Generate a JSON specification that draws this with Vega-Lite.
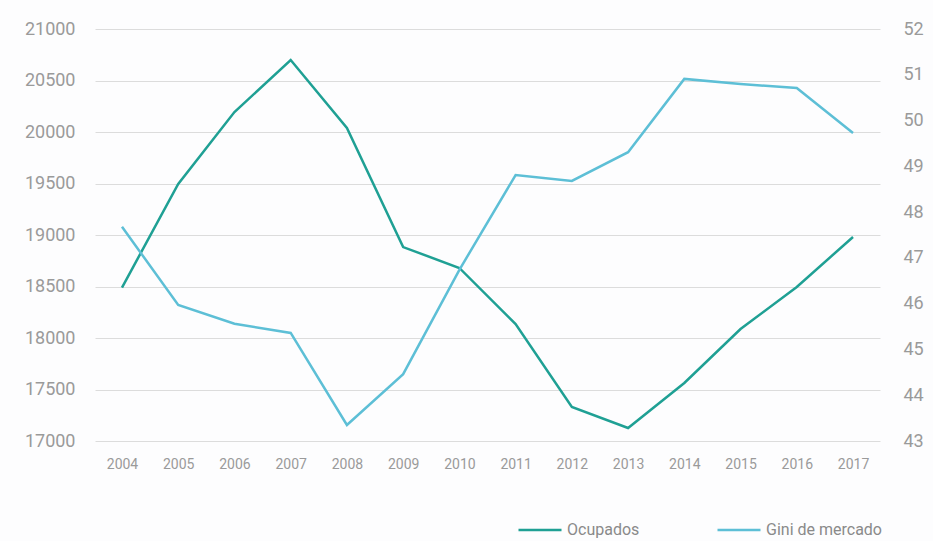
{
  "$schema": "https://vega.github.io/schema/vega-lite/v6.json",
  "width": 785,
  "height": 412,
  "autosize": {"type": "none"},
  "padding": {"left": 95, "top": 29, "right": 53, "bottom": 100},
  "background": "#fdfdfe",
  "config": {
    "view": {"stroke": null},
    "font": "Roboto",
    "axis": {"labelColor": "#9a9a9a", "labelFont": "Roboto", "gridColor": "#dcdcdc", "gridWidth": 1, "domain": false, "ticks": false},
    "legend": {"labelFont": "Roboto", "labelColor": "#8a8a8a"}
  },
  "data": {
    "values": [
      {"year": "2004", "series": "Ocupados", "value": 18490},
      {"year": "2005", "series": "Ocupados", "value": 19495},
      {"year": "2006", "series": "Ocupados", "value": 20194},
      {"year": "2007", "series": "Ocupados", "value": 20699},
      {"year": "2008", "series": "Ocupados", "value": 20039},
      {"year": "2009", "series": "Ocupados", "value": 18883},
      {"year": "2010", "series": "Ocupados", "value": 18680},
      {"year": "2011", "series": "Ocupados", "value": 18136},
      {"year": "2012", "series": "Ocupados", "value": 17330},
      {"year": "2013", "series": "Ocupados", "value": 17126},
      {"year": "2014", "series": "Ocupados", "value": 17563},
      {"year": "2015", "series": "Ocupados", "value": 18087},
      {"year": "2016", "series": "Ocupados", "value": 18495},
      {"year": "2017", "series": "Ocupados", "value": 18981},
      {"year": "2004", "series": "Gini de mercado", "value": 47.68},
      {"year": "2005", "series": "Gini de mercado", "value": 45.97},
      {"year": "2006", "series": "Gini de mercado", "value": 45.56},
      {"year": "2007", "series": "Gini de mercado", "value": 45.36},
      {"year": "2008", "series": "Gini de mercado", "value": 43.35},
      {"year": "2009", "series": "Gini de mercado", "value": 44.46},
      {"year": "2010", "series": "Gini de mercado", "value": 46.74},
      {"year": "2011", "series": "Gini de mercado", "value": 48.81},
      {"year": "2012", "series": "Gini de mercado", "value": 48.68},
      {"year": "2013", "series": "Gini de mercado", "value": 49.31},
      {"year": "2014", "series": "Gini de mercado", "value": 50.91},
      {"year": "2015", "series": "Gini de mercado", "value": 50.8},
      {"year": "2016", "series": "Gini de mercado", "value": 50.71},
      {"year": "2017", "series": "Gini de mercado", "value": 49.73}
    ]
  },
  "encoding": {
    "x": {
      "field": "year", "type": "ordinal",
      "scale": {"type": "point", "padding": 0.48},
      "axis": {"title": null, "labelAngle": 0, "labelFontSize": 14, "labelPadding": 16, "grid": false}
    },
    "color": {
      "field": "series", "type": "nominal",
      "scale": {"domain": ["Ocupados", "Gini de mercado"], "range": ["#1fa094", "#5dbfd6"]},
      "legend": {
        "title": null, "orient": "none", "direction": "horizontal",
        "legendX": 422, "legendY": 478,
        "symbolType": "stroke", "symbolSize": 1849, "symbolStrokeWidth": 2.5,
        "labelFontSize": 16, "labelOffset": 4, "columnPadding": 72
      }
    }
  },
  "layer": [
    {
      "transform": [{"filter": "datum.series === 'Ocupados'"}],
      "mark": {"type": "line", "strokeWidth": 2.5},
      "encoding": {
        "y": {
          "field": "value", "type": "quantitative",
          "scale": {"domain": [17000, 21000], "zero": false, "nice": false},
          "axis": {"title": null, "orient": "left", "values": [17000, 17500, 18000, 18500, 19000, 19500, 20000, 20500, 21000], "labelFontSize": 18, "labelPadding": 20, "format": "d"}
        }
      }
    },
    {
      "transform": [{"filter": "datum.series === 'Gini de mercado'"}],
      "mark": {"type": "line", "strokeWidth": 2.5},
      "encoding": {
        "y": {
          "field": "value", "type": "quantitative",
          "scale": {"domain": [43, 52], "zero": false, "nice": false},
          "axis": {"title": null, "orient": "right", "grid": false, "values": [43, 44, 45, 46, 47, 48, 49, 50, 51, 52], "labelFontSize": 18, "labelPadding": 23}
        }
      }
    }
  ],
  "resolve": {"scale": {"y": "independent"}}
}
